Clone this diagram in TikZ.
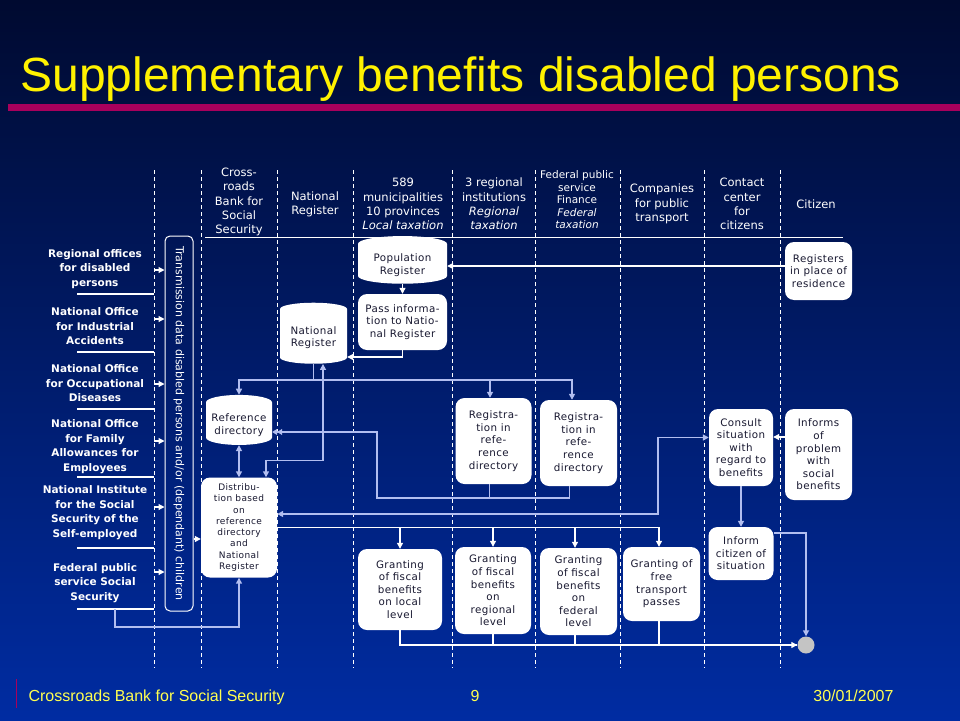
\documentclass[tikz,border=0pt]{standalone}
\usepackage{fontspec}
\setmainfont{DejaVu Sans}
\newfontfamily\slidefont{Liberation Sans}
\newfontfamily\boxfont[LetterSpace=4]{DejaVu Sans}
\usetikzlibrary{shapes.geometric,arrows.meta,positioning}

\definecolor{bgtop}{RGB}{0,10,48}
\definecolor{bgmid}{RGB}{0,24,104}
\definecolor{bgbot}{RGB}{0,44,162}
\definecolor{barmagenta}{RGB}{168,0,92}
\definecolor{boxtext}{RGB}{24,24,48}
\definecolor{lav}{RGB}{178,190,240}
\definecolor{endgray}{RGB}{196,196,196}
\definecolor{footyellow}{RGB}{255,255,80}

\begin{document}
\begin{tikzpicture}[x=1pt,y=-1pt,
  lane/.style={white,line width=0.8pt,dash pattern=on 4pt off 3pt},
  act/.style={rectangle,rounded corners=9pt,fill=white,text=boxtext,align=center,
    inner sep=2pt,font=\boxfont\fontsize{10.3}{12.6}\selectfont},
  dbase/.style={cylinder,shape border rotate=90,aspect=0.25,fill=white,text=boxtext,
    align=center,inner sep=2pt,font=\boxfont\fontsize{10.3}{12.6}\selectfont},
  org/.style={text=white,align=center,font=\bfseries\fontsize{10.5}{14.5}\selectfont},
  lanehead/.style={text=white,align=center,font=\fontsize{11.5}{14.3}\selectfont},
  wline/.style={white,line width=1.1pt},
  lline/.style={lav,line width=1.5pt},
  endtip/.style={-{Triangle[width=6pt,length=6pt]}},
  twotips/.style={{Triangle[width=6pt,length=6pt]}-{Triangle[width=6pt,length=6pt]}},
  dbltip/.style={-{Triangle[width=6pt,length=5pt]Triangle[width=6pt,length=5pt]}}]

\useasboundingbox (0,0) rectangle (960,720);
\shade[top color=bgtop,middle color=bgmid,bottom color=bgbot] (0,0) rectangle (960,720);

% title and footer
\node[anchor=base west,text=yellow,font=\slidefont\fontsize{48}{50}\selectfont] (title) at (17,91) {Supplementary benefits disabled persons};
\fill[barmagenta] (8,104) rectangle (960,111);
\draw[barmagenta,line width=1pt] (16,679) -- (16,708);
\node[anchor=base west,text=footyellow,font=\slidefont\fontsize{16}{18}\selectfont] (foot) at (25,701) {Crossroads Bank for Social Security};
\node[anchor=base,text=footyellow,font=\slidefont\fontsize{16}{18}\selectfont] (page) at (475,701) {9};
\node[anchor=base east,text=footyellow,font=\slidefont\fontsize{16}{18}\selectfont] (date) at (897,701) {30/01/2007};

% swim lanes
\foreach \x [count=\k] in {154,201,277,353,452,535,620,704,780} {
  \draw[lane] (\x,170) -- (\x,668);
  \coordinate (l\k) at (\x,170);
}
\draw[white,line width=1pt] (205,237) -- (843,237);

\node[lanehead] (hcbss) at (239,202) {Cross-\\roads\\Bank for\\Social\\Security};
\node[lanehead] (hnr) at (315,204) {National\\Register};
\node[lanehead] (hmun) at (403,204) {589\\municipalities\\10 provinces\\\textit{Local taxation}};
\node[lanehead] (hreg) at (494,204) {3 regional\\institutions\\\textit{Regional}\\\textit{taxation}};
\node[lanehead,font=\fontsize{10.5}{12.5}\selectfont] (hfin) at (577,200) {Federal public\\service\\Finance\\\textit{Federal}\\\textit{taxation}};
\node[lanehead] (htrp) at (662,204) {Companies\\for public\\transport};
\node[lanehead] (hcc) at (742,204) {Contact\\center\\for\\citizens};
\node[lanehead] (hcit) at (816,204) {Citizen};

% transmission
\node[draw=white,line width=1pt,rounded corners=5pt,minimum width=28,minimum height=375] (trans) at (179,423.5) {};
\node[rotate=-90,text=white,font=\fontsize{11}{13}\selectfont] (transtext) at (trans.center) {Transmission data disabled persons and/or (dependant) children};

\foreach \i/\txt/\ly/\ay/\uy in {
  1/{Regional offices\\for disabled\\persons}/269/270/294,
  2/{National Office\\for Industrial\\Accidents}/326.5/319/352,
  3/{National Office\\for Occupational\\Diseases}/383.5/384/409,
  4/{National Office\\for Family\\Allowances for\\Employees}/446.5/441/477,
  5/{National Institute\\for the Social\\Security of the\\Self-employed}/512.5/507/548,
  6/{Federal public\\service Social\\Security}/583/572/609} {
  \node[org] (o\i) at (95,\ly) {\txt};
  \coordinate (u\i) at (77,\uy);
  \coordinate (a\i) at (160,\ay);
  \draw[wline] (u\i) -- (u\i -| l1);
  \draw[wline,endtip] (a\i -| l1) -- (a\i -| trans.west);
}

% activities
\node[dbase,minimum width=89,minimum height=40] (popreg) at (402.5,265) {Population\\Register};
\node[act,minimum width=89,minimum height=56] (pass) at (402.5,322) {Pass informa-\\tion to Natio-\\nal Register};
\node[dbase,minimum width=67,minimum height=61] (natreg) at (313.5,337.5) {National\\Register};
\node[dbase,minimum width=66,minimum height=50] (refdir) at (239,425) {Reference\\directory};
\node[act,minimum width=76,minimum height=100,font=\boxfont\fontsize{9}{11.3}\selectfont] (distrib) at (239,527.5) {Distribu-\\tion based\\on\\reference\\directory\\and\\National\\Register};
\node[act,minimum width=76,minimum height=86] (reg1) at (493.5,441) {Registra-\\tion in\\refe-\\rence\\directory};
\node[act,minimum width=77,minimum height=86] (reg2) at (578.5,443) {Registra-\\tion in\\refe-\\rence\\directory};
\node[act,minimum width=84,minimum height=81] (gloc) at (400,589.5) {Granting\\of fiscal\\benefits\\on local\\level};
\node[act,minimum width=76,minimum height=87] (greg) at (493,590.5) {Granting\\of fiscal\\benefits\\on\\regional\\level};
\node[act,minimum width=77,minimum height=87] (gfed) at (578.5,591.5) {Granting\\of fiscal\\benefits\\on\\federal\\level};
\node[act,minimum width=77,minimum height=74] (gtrans) at (661.5,584) {Granting of\\free\\transport\\passes};
\node[act,minimum width=64,minimum height=77] (consult) at (741,447.5) {Consult\\situation\\with\\regard to\\benefits};
\node[act,minimum width=65,minimum height=53] (inform) at (741,553.5) {Inform\\citizen of\\situation};
\node[act,minimum width=67,minimum height=91] (informs) at (818.5,454.5) {Informs\\of\\problem\\with\\social\\benefits};
\node[act,minimum width=67,minimum height=58] (registers) at (818.5,271) {Registers\\in place of\\residence};
\node[circle,fill=endgray,minimum size=17,inner sep=0pt] (endpt) at (806,645) {};

% connectors
\draw[wline,endtip] ([yshift=5pt]registers.west) coordinate (q) -- (q -| popreg.east);
\draw[wline,endtip] (popreg.south) -- (pass.north);
\draw[wline,endtip] (pass.south) |- ([yshift=-19.5pt]natreg.east);

\draw[lline] (natreg.south) -- ++(0,16) coordinate (nrbus);
\draw[lline,endtip] (nrbus) -| (refdir.north);
\draw[lline,endtip] (nrbus) -| ([xshift=-3.5pt]reg1.north);
\draw[lline,endtip] (nrbus) -| ([xshift=-6.5pt]reg2.north);
\draw[lline,twotips] (refdir.south) -- (distrib.north);
\draw[lline,twotips] ([xshift=27pt]distrib.north) -- ++(0,-17) -| ([xshift=9.5pt]natreg.south);

\draw[lline] ([xshift=-4pt]reg1.south) -- ++(0,14) coordinate (rbus);
\draw[lline] ([xshift=-9pt]reg2.south) |- (rbus);
\draw[lline,dbltip] (rbus) -- ++(-112.5,0) |- ([yshift=-7pt]refdir.east);

\draw[lline,twotips] ([yshift=10pt]consult.west) -- ++(-51,0) |- ([yshift=13.5pt]distrib.east);

\draw[wline,endtip] (distrib.east) -| (gloc.north);
\draw[wline,endtip] (distrib.east) -| (greg.north);
\draw[wline,endtip] (distrib.east) -| ([xshift=-3.5pt]gfed.north);
\draw[wline,endtip] (distrib.east) -| ([xshift=-2.5pt]gtrans.north);

\draw[wline] (gloc.south) |- (endpt.west);
\draw[wline] (greg.south) |- (endpt.west);
\draw[wline] ([xshift=-3.5pt]gfed.south) |- (endpt.west);
\draw[wline,endtip] ([xshift=-2.5pt]gtrans.south) |- (endpt.west);

\draw[lline,endtip] (consult.south) -- (inform.north);
\draw[lline,endtip] ([yshift=20.5pt]inform.east) -| (endpt.north);
\draw[wline,endtip] ([yshift=17.5pt]informs.west) coordinate (q) -- (q -| consult.east);

\path ([yshift=-11.5pt]distrib.west) coordinate (tin);
\draw[wline,endtip] (tin -| trans.east) -- (tin);
\coordinate (j6) at (115,609);
\draw[lline,endtip] (j6) -- ++(0,18) -| (distrib.south);
\end{tikzpicture}
\end{document}
